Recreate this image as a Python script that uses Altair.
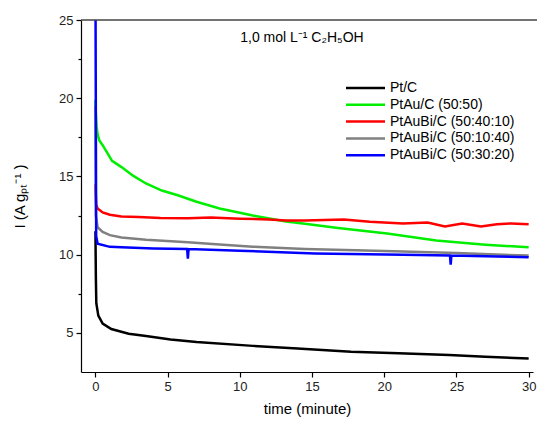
import altair as alt
import pandas as pd

series_names = ["Pt/C", "PtAu/C (50:50)", "PtAuBi/C (50:40:10)", "PtAuBi/C (50:10:40)", "PtAuBi/C (50:30:20)"]
series_colors = ["#000000", "#00ee00", "#ff0000", "#808080", "#0000ff"]

t_ptc = [0, 0.03, 0.06, 0.2, 0.5, 1.1, 2.3, 3.5, 5.2, 7.0, 10.9, 14.0, 17.7, 21.0, 24.5, 27.0, 30.0]
v_ptc = [11.5, 8.5, 6.9, 6.1, 5.6, 5.25, 4.95, 4.8, 4.58, 4.42, 4.17, 4.0, 3.8, 3.7, 3.59, 3.47, 3.37]

t_ptau = [0, 0.03, 0.08, 0.15, 0.27, 0.5, 1.15, 1.83, 2.6, 3.5, 4.6, 5.7, 7.0, 8.6, 10.9, 13.2, 14.5, 16.8, 20.2, 23.6, 27.0, 30.0]
v_ptau = [19.9, 19.0, 18.2, 17.7, 17.3, 17.0, 16.0, 15.58, 15.05, 14.55, 14.1, 13.8, 13.38, 12.95, 12.5, 12.12, 11.98, 11.7, 11.35, 10.9, 10.64, 10.47]

t_b1 = [0, 0.05, 0.15, 0.5, 1.0, 1.8, 3.0, 4.5, 6.4, 8.0, 10.0, 12.0, 13.2, 14.5, 17.2, 19.0, 21.3, 23.0, 24.2, 25.4, 26.7, 27.8, 28.8, 30.0]
v_b1 = [14.5, 13.2, 12.95, 12.7, 12.55, 12.44, 12.4, 12.35, 12.33, 12.38, 12.3, 12.25, 12.18, 12.18, 12.24, 12.1, 12.0, 12.05, 11.8, 11.99, 11.8, 11.95, 12.0, 11.95]

t_b2 = [0, 0.03, 0.15, 0.5, 1.0, 1.8, 3.5, 6.4, 8.6, 10.9, 14.5, 18.0, 21.3, 25.0, 30.0]
v_b2 = [19.5, 12.5, 11.75, 11.45, 11.25, 11.1, 10.95, 10.79, 10.65, 10.51, 10.36, 10.28, 10.21, 10.1, 9.94]

t_b3 = [0, 0.05, 0.15, 1.0, 1.8, 4.0, 6.35, 6.4, 6.45, 10.0, 15.2, 21.3, 24.55, 24.6, 24.65, 27.0, 30.0]
v_b3 = [28.0, 11.2, 10.7, 10.5, 10.47, 10.4, 10.36, 9.75, 10.36, 10.25, 10.08, 10.0, 9.95, 9.36, 9.95, 9.9, 9.83]

all_t = [t_ptc, t_ptau, t_b1, t_b2, t_b3]
all_v = [v_ptc, v_ptau, v_b1, v_b2, v_b3]

x_ticks = [0, 2.5, 5, 7.5, 10, 12.5, 15, 17.5, 20, 22.5, 25, 27.5, 30]
y_ticks = [5, 7.5, 10, 12.5, 15, 17.5, 20, 22.5, 25]

FONT = "Liberation Sans"

xscale = alt.Scale(domain=[-1, 30.3], nice=False, zero=False)
yscale = alt.Scale(domain=[2.5, 25], nice=False, zero=False)
cscale = alt.Scale(domain=series_names, range=series_colors)

tick_cond = {"condition": {"test": "datum.value % 5 === 0", "value": 5}, "value": 3}

xaxis = alt.Axis(values=x_ticks, labelExpr="datum.value % 5 === 0 ? datum.label : ''",
                 labelOverlap=False, tickSize=tick_cond, title="time (minute)", grid=False,
                 labelPadding=3, titlePadding=8)
yaxis = alt.Axis(values=y_ticks, labelExpr="datum.value % 5 === 0 ? datum.label : ''",
                 labelOverlap=False, tickSize=tick_cond, title="I (A gₚₜ⁻¹ )", grid=False,
                 labelPadding=3, titlePadding=31)

layers = []
for i, name in enumerate(series_names):
    df = pd.DataFrame({"t": all_t[i], "v": all_v[i], "s": name})
    layers.append(alt.Chart(df).mark_line(strokeWidth=2.5, clip=True).encode(
        x=alt.X("t:Q", scale=xscale, axis=xaxis),
        y=alt.Y("v:Q", scale=yscale, axis=yaxis),
        color=alt.Color("s:N", scale=cscale, legend=None),
    ))

top_rule = alt.Chart(pd.DataFrame({"y": [25]})).mark_rule(color="#444", strokeWidth=1.5).encode(
    x=alt.datum(-1, scale=xscale), x2=alt.datum(30.6), y=alt.Y("y:Q", scale=yscale))

ann = alt.Chart(pd.DataFrame({"x": [14.3], "y": [23.85], "txt": ["1,0 mol L⁻¹ C₂H₅OH"]})).mark_text(
    font=FONT, fontSize=14, color="#000").encode(
    x=alt.X("x:Q", scale=xscale), y=alt.Y("y:Q", scale=yscale), text="txt:N")

# custom legend laid out in pixel space inside the plot area
leg_df = pd.DataFrame({"s": series_names, "row": list(range(len(series_names)))})
leg_base = alt.Chart(leg_df).transform_calculate(
    py="68 + 16.8 * datum.row", x1="265", x2="304", xl="309")
leg_lines = leg_base.mark_rule(strokeWidth=2.5).encode(
    x=alt.X("x1:Q", scale=None), x2="x2:Q",
    y=alt.Y("py:Q", scale=None),
    color=alt.Color("s:N", scale=cscale, legend=None))
leg_text = leg_base.mark_text(align="left", baseline="middle", font=FONT, fontSize=14,
                              color="#000").encode(
    x=alt.X("xl:Q", scale=None), y=alt.Y("py:Q", scale=None), text="s:N")

chart = alt.layer(*layers, top_rule, ann, leg_lines, leg_text).properties(
    width=452, height=352, background="white",
    autosize=alt.AutoSizeParams(type="none"),
    padding={"left": 73, "top": 12, "right": 4, "bottom": 46},
).configure_view(strokeWidth=0).configure_axis(
    labelFont=FONT, labelFontSize=13, labelColor="#222",
    titleFont=FONT, titleFontSize=15, titleFontWeight="normal", titleColor="#000",
    domainColor="#000", domainWidth=1.2, tickColor="#000", tickWidth=1.2,
)

chart.save("out.html", embed_options={"renderer": "svg", "actions": False})
